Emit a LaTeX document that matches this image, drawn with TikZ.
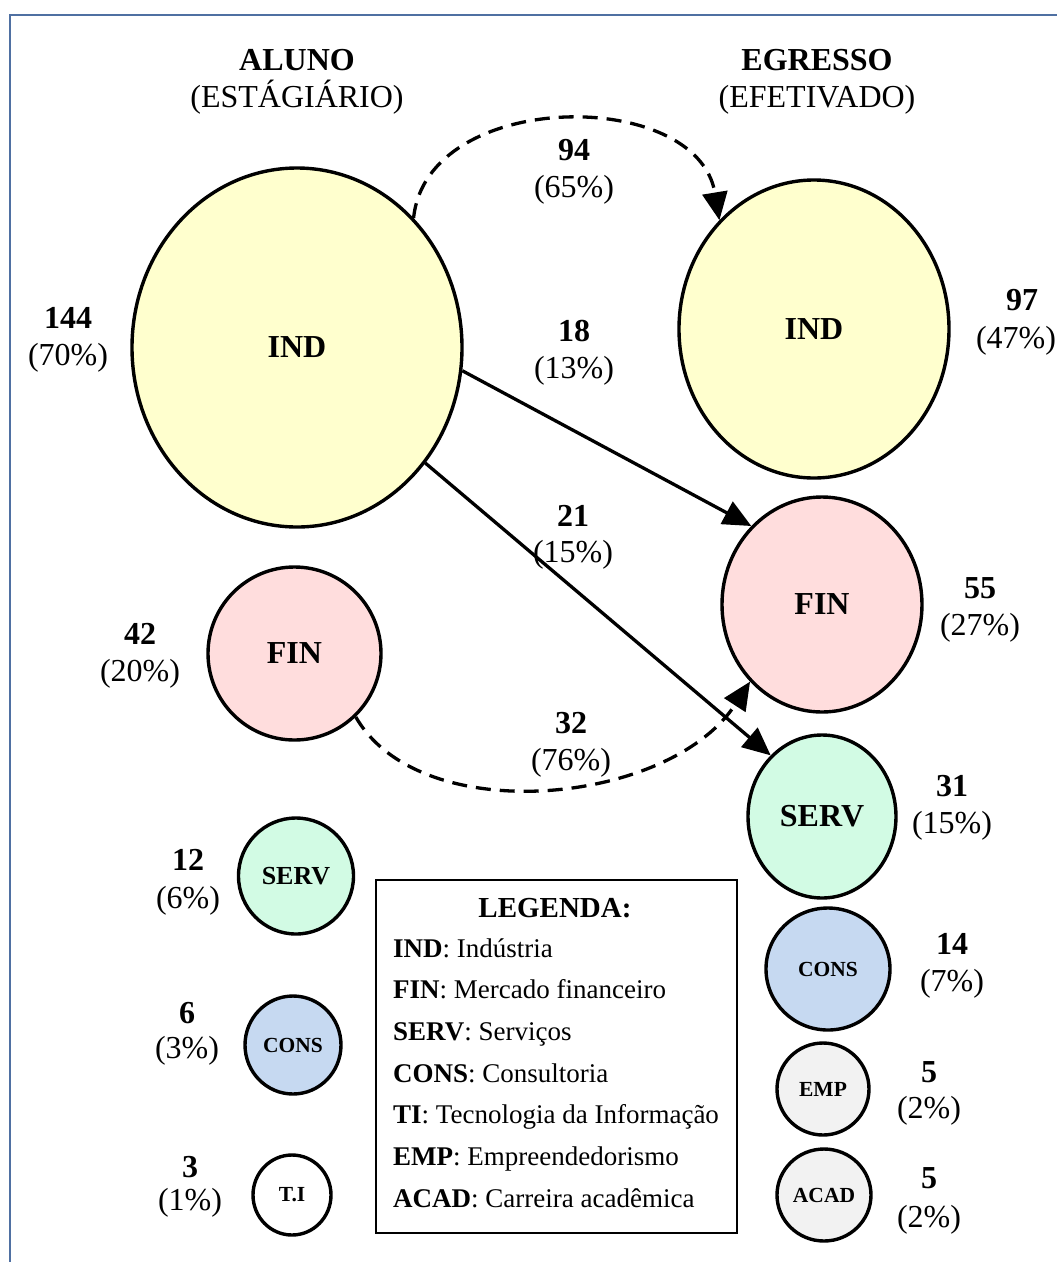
\documentclass[tikz,border=0pt]{standalone}
\usepackage{fontspec}
\setmainfont{Liberation Serif}
\usetikzlibrary{shapes.geometric,arrows.meta}

\definecolor{framecol}{RGB}{79,112,162}
\definecolor{indcol}{RGB}{255,255,206}
\definecolor{fincol}{RGB}{255,221,221}
\definecolor{servcol}{RGB}{210,251,228}
\definecolor{conscol}{RGB}{198,217,241}
\definecolor{greycol}{RGB}{242,242,242}

\newcommand{\statpair}[6]{%
  \node[numlbl] (#1-n) at (#2,#3) {#5};
  \node[pctlbl] (#1-p) at (#2,#4) {#6};
}

\begin{document}
\begin{tikzpicture}[x=1pt,y=-1pt,
  bub/.style={ellipse, draw=black, line width=3.4pt, inner sep=0pt,
              font=\fontsize{32}{32}\selectfont\bfseries},
  smallbub/.style={bub, font=\fontsize{21.5}{21.5}\selectfont\bfseries},
  numlbl/.style={anchor=base, inner sep=0pt, font=\fontsize{32}{32}\selectfont\bfseries},
  pctlbl/.style={anchor=base, inner sep=0pt, font=\fontsize{32}{32}\selectfont},
  legline/.style={anchor=base west, inner sep=0pt, font=\fontsize{27}{27}\selectfont},
  flow/.style={line width=3.3pt, -{Triangle[length=28pt,width=25pt]}},
  dashflow/.style={flow, dash pattern=on 15pt off 9pt}
]
\useasboundingbox (0,0) rectangle (1057,1262);

% outer frame, running off the right and bottom edges
\begin{scope}
  \clip (0,0) rectangle (1057,1262);
  \draw[framecol, line width=2pt] (10,1290) -- (10,15) -- (1090,15);
\end{scope}

% column headings
\node[numlbl] (hA1) at (297,70) {ALUNO};
\node[pctlbl] (hA2) at (297,107) {(ESTÁGIÁRIO)};
\node[numlbl] (hE1) at (817,70) {EGRESSO};
\node[pctlbl] (hE2) at (817,107) {(EFETIVADO)};

% student sectors
\node[bub, fill=indcol, minimum width=330pt, minimum height=359pt] (indA) at (297,347.5) {IND};
\node[bub, fill=fincol, minimum width=173pt, minimum height=173pt] (finA) at (294.5,653.5) {FIN};
\node[bub, fill=servcol, minimum width=115pt, minimum height=116pt,
      font=\fontsize{26}{26}\selectfont\bfseries] (servA) at (296,876) {SERV};
\node[smallbub, fill=conscol, minimum width=96pt, minimum height=98pt] (consA) at (293,1045) {CONS};
\node[smallbub, fill=white, minimum width=78pt, minimum height=80pt] (tiA) at (292,1195) {T.I};

% graduate sectors
\node[bub, fill=indcol, minimum width=270pt, minimum height=298pt] (indE) at (814,329) {IND};
\node[bub, fill=fincol, minimum width=200pt, minimum height=215pt] (finE) at (822,604.5) {FIN};
\node[bub, fill=servcol, minimum width=148pt, minimum height=163pt] (servE) at (822,816.5) {SERV};
\node[smallbub, fill=conscol, minimum width=124pt, minimum height=122pt] (consE) at (828,969) {CONS};
\node[smallbub, fill=greycol, minimum width=92pt, minimum height=92pt] (empE) at (823,1089) {EMP};
\node[smallbub, fill=greycol, minimum width=94pt, minimum height=92pt] (acadE) at (824,1195) {ACAD};

% counts and shares
\statpair{tIndA}{68}{328}{365}{144}{(70\%)}
\statpair{tFinA}{140}{644}{681}{42}{(20\%)}
\statpair{tServA}{188}{870}{908}{12}{(6\%)}
\statpair{tConsA}{187}{1023}{1058}{6}{(3\%)}
\statpair{tTiA}{190}{1177}{1210}{3}{(1\%)}
\node[numlbl] (tIndE-n) at (1022,310) {97};
\node[pctlbl] (tIndE-p) at (1016,348) {(47\%)};
\statpair{tFinE}{980}{598}{635}{55}{(27\%)}
\statpair{tServE}{952}{796}{833}{31}{(15\%)}
\statpair{tConsE}{952}{954}{991}{14}{(7\%)}
\statpair{tEmpE}{929}{1082}{1118}{5}{(2\%)}
\statpair{tAcadE}{929}{1188}{1227}{5}{(2\%)}

% flows between sectors
\draw[dashflow] (indA.48.4) .. controls +(13,-129) and +(-22,-134) .. (indE.131);
\draw[flow] (indA.-8.5) -- (finE.132.5);
\draw[flow] (indA.-42) -- (servE.130.4);
\draw[dashflow] (finA.-46.4) .. controls +(65,113) and +(-80,123) .. (finE.227);

\statpair{f94}{574}{160}{197}{94}{(65\%)}
\statpair{f18}{574}{341}{378}{18}{(13\%)}
\statpair{f21}{573}{526}{562}{21}{(15\%)}
\statpair{f32}{571}{733}{770}{32}{(76\%)}

% legend
\node[draw=black, line width=1.8pt, fill=white, minimum width=361pt, minimum height=353pt,
      inner sep=0pt] (legend) at (556.5,1056.5) {};
\node[anchor=base, inner sep=0pt, font=\fontsize{29}{29}\selectfont\bfseries] (legT) at (555,917) {LEGENDA:};
\node[legline] (leg1) at (393,957) {\textbf{IND}: Indústria};
\node[legline] (leg2) at (393,998) {\textbf{FIN}: Mercado financeiro};
\node[legline] (leg3) at (393,1040) {\textbf{SERV}: Serviços};
\node[legline] (leg4) at (393,1082) {\textbf{CONS}: Consultoria};
\node[legline] (leg5) at (393,1123) {\textbf{TI}: Tecnologia da Informação};
\node[legline] (leg6) at (393,1165) {\textbf{EMP}: Empreendedorismo};
\node[legline] (leg7) at (393,1207) {\textbf{ACAD}: Carreira acadêmica};
\end{tikzpicture}
\end{document}
